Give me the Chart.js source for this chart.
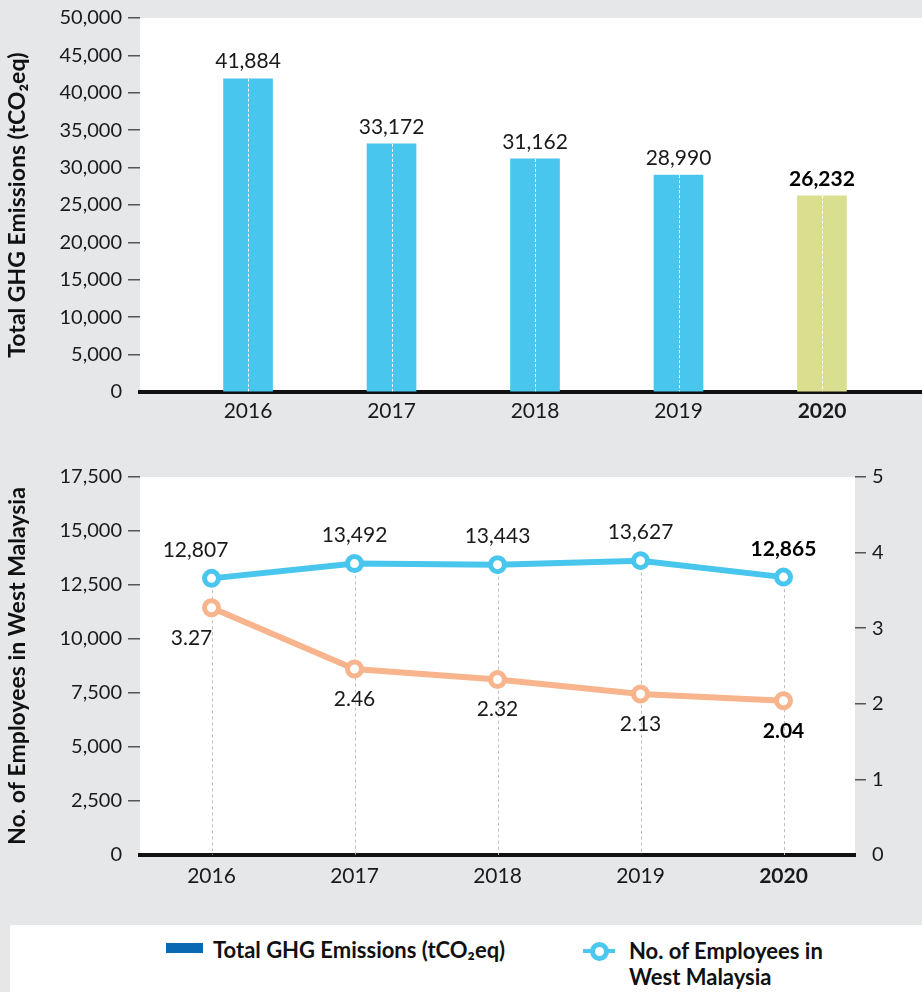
<!DOCTYPE html>
<html>
<head>
<meta charset="utf-8">
<script src="https://cdn.jsdelivr.net/npm/chart.js@4.4.1/dist/chart.umd.min.js"></script>
<style>
  html, body { margin: 0; padding: 0; }
  body {
    width: 922px; height: 992px; background: #e6e7e9;
    position: relative; overflow: hidden; font-family: Lato, sans-serif;
  }
  #graficaEmisiones { position: absolute; left: 0; top: 0; }
  #graficaEmpleados { position: absolute; left: 0; top: 440px; }
  .leyenda {
    position: absolute; left: 10px; top: 925px; width: 912px; height: 67px;
    background: #fff; color: #111; font: bold 22px/26px Lato, sans-serif;
  }
  .leyenda .cuadro { position: absolute; left: 156px; top: 18px; width: 37px; height: 10px; background: #0a69b3; }
  .leyenda .texto1 { position: absolute; left: 203px; top: 12px; white-space: nowrap; }
  .leyenda .linea { position: absolute; left: 573px; top: 24px; width: 32px; height: 4px; background: #4cc7ee; }
  .leyenda .punto {
    position: absolute; left: 580px; top: 17px; width: 9px; height: 9px;
    border: 5px solid #4cc7ee; border-radius: 50%; background: #fff;
  }
  .leyenda .texto2 { position: absolute; left: 619px; top: 13px; white-space: nowrap; }
</style>
</head>
<body>
<canvas id="graficaEmisiones" width="922" height="440"></canvas>
<canvas id="graficaEmpleados" width="922" height="470"></canvas>

<div class="leyenda">
  <div class="cuadro"></div>
  <div class="texto1">Total GHG Emissions (tCO₂eq)</div>
  <div class="linea"></div>
  <div class="punto"></div>
  <div class="texto2">No. of Employees in<br>West Malaysia</div>
</div>

<script>
// Datos
const anios = ['2016', '2017', '2018', '2019', '2020'];
const emisionesTotales = [41884, 33172, 31162, 28990, 26232];
const empleadosOeste = [12807, 13492, 13443, 13627, 12865];
const emisionesPorEmpleado = [3.27, 2.46, 2.32, 2.13, 2.04];

const ticksEmisiones = [0, 5000, 10000, 15000, 20000, 25000, 30000, 35000, 40000, 45000, 50000];
const ticksEmpleados = [0, 2500, 5000, 7500, 10000, 12500, 15000, 17500];
const ticksPorEmpleado = [0, 1, 2, 3, 4, 5];

// Colores
const AZUL = '#48c6ee';
const OLIVA = '#dadf8f';
const NARANJA = '#f8b48c';
const TEXTO = '#1a1a1a';
const FUENTE = 'Lato, sans-serif';

const ultimo = anios.length - 1;
const fmt = v => Number(v).toLocaleString('en-US');

// Fondo blanco del área de la gráfica
const fondoBlanco = {
  id: 'fondoBlanco',
  beforeDraw(chart) {
    const { ctx, chartArea: a } = chart;
    ctx.save();
    ctx.fillStyle = '#fff';
    ctx.fillRect(a.left, a.top, a.right - a.left, a.bottom - a.top);
    ctx.restore();
  }
};

// Línea punteada blanca al centro de cada barra + valor encima
const detalleBarras = {
  id: 'detalleBarras',
  afterDatasetsDraw(chart) {
    const { ctx } = chart;
    const meta = chart.getDatasetMeta(0);
    ctx.save();
    meta.data.forEach((barra, i) => {
      ctx.strokeStyle = '#fff';
      ctx.lineWidth = 1;
      ctx.setLineDash([3, 2]);
      ctx.beginPath();
      ctx.moveTo(Math.round(barra.x) + 0.5, barra.y);
      ctx.lineTo(Math.round(barra.x) + 0.5, barra.base);
      ctx.stroke();

      ctx.setLineDash([]);
      ctx.fillStyle = i === ultimo ? '#000' : TEXTO;
      ctx.font = (i === ultimo ? 'bold ' : '') + '21px ' + FUENTE;
      ctx.textAlign = 'center';
      ctx.textBaseline = 'middle';
      ctx.fillText(fmt(emisionesTotales[i]), barra.x, barra.y - 17);
    });
    ctx.restore();
  }
};

// Guías punteadas grises desde el punto más alto hasta el eje
const guiasPuntos = {
  id: 'guiasPuntos',
  beforeDatasetsDraw(chart) {
    const { ctx, chartArea } = chart;
    const a = chart.getDatasetMeta(0).data;
    const b = chart.getDatasetMeta(1).data;
    ctx.save();
    ctx.strokeStyle = '#bdbdbd';
    ctx.lineWidth = 1;
    ctx.setLineDash([3, 3]);
    a.forEach((p, i) => {
      const x = Math.round(p.x) + 0.5;
      ctx.beginPath();
      ctx.moveTo(x, Math.min(p.y, b[i].y));
      ctx.lineTo(x, chartArea.bottom);
      ctx.stroke();
    });
    ctx.restore();
  }
};

// Valores de las dos series
const etiquetasLineas = {
  id: 'etiquetasLineas',
  afterDatasetsDraw(chart) {
    const { ctx } = chart;
    const a = chart.getDatasetMeta(0).data;
    const b = chart.getDatasetMeta(1).data;
    ctx.save();
    ctx.textAlign = 'center';
    ctx.textBaseline = 'middle';
    a.forEach((p, i) => {
      const negrita = i === ultimo;
      ctx.font = (negrita ? 'bold ' : '') + '21px ' + FUENTE;
      ctx.fillStyle = negrita ? '#000' : TEXTO;
      ctx.fillText(fmt(empleadosOeste[i]), p.x - (i === 0 ? 16 : 0), p.y - 28);
      ctx.fillText(emisionesPorEmpleado[i].toFixed(2), b[i].x - (i === 0 ? 20 : 0), b[i].y + 30);
    });
    ctx.restore();
  }
};

const marcaTick = ctx => (ctx.tick && ctx.tick.value === 0 ? 'rgba(0,0,0,0)' : '#555');
const fuenteTicks = { family: FUENTE, size: 20 };
const fuenteAnios = ctx => ({ family: FUENTE, size: 21, weight: ctx.index === ultimo ? 'bold' : 'normal' });
const fuenteTitulo = { family: FUENTE, size: 23, weight: 'bold' };

// Gráfica 1: emisiones totales
new Chart(document.getElementById('graficaEmisiones'), {
  type: 'bar',
  data: {
    datasets: [{
      data: anios.map((a, i) => ({ x: Number(a), y: emisionesTotales[i] })),
      backgroundColor: anios.map((a, i) => (i === ultimo ? OLIVA : AZUL)),
      borderWidth: 0,
      barThickness: 49
    }]
  },
  options: {
    responsive: false,
    animation: false,
    layout: { padding: { top: 15, left: 0, right: 0, bottom: 0 } },
    plugins: { legend: { display: false }, tooltip: { enabled: false } },
    scales: {
      x: {
        type: 'linear',
        offset: false,
        min: 2015.247,
        max: 2020.697,
        z: 1,
        afterBuildTicks: s => { s.ticks = anios.map(a => ({ value: Number(a) })); },
        afterFit: s => { s.height = 48; },
        grid: { display: true, drawOnChartArea: false, drawTicks: false, offset: false },
        border: { display: true, color: '#111', width: 4 },
        ticks: {
          padding: 7,
          color: TEXTO,
          autoSkip: false,
          maxRotation: 0,
          callback: v => String(v),
          font: fuenteAnios
        }
      },
      y: {
        min: 0,
        max: 50000,
        afterBuildTicks: s => { s.ticks = ticksEmisiones.map(v => ({ value: v })); },
        afterFit: s => { s.width = 140; },
        grid: { drawOnChartArea: false, drawTicks: true, tickLength: 12, lineWidth: 1.5, color: marcaTick },
        border: { display: false },
        ticks: { padding: 6, color: TEXTO, font: fuenteTicks, callback: v => fmt(v) },
        title: {
          display: true,
          text: 'Total GHG Emissions (tCO₂eq)',
          color: '#111',
          font: fuenteTitulo,
          padding: { top: 4, bottom: 0 }
        }
      }
    }
  },
  plugins: [fondoBlanco, detalleBarras]
});

// Gráfica 2: empleados y emisiones por empleado
const punto = color => ({
  borderColor: color,
  borderWidth: 6,
  pointRadius: 7,
  pointBorderWidth: 5,
  pointBackgroundColor: '#fff',
  pointBorderColor: color,
  tension: 0,
  fill: false
});

new Chart(document.getElementById('graficaEmpleados'), {
  type: 'line',
  data: {
    labels: anios,
    datasets: [
      Object.assign({ data: empleadosOeste, yAxisID: 'y' }, punto(AZUL)),
      Object.assign({ data: emisionesPorEmpleado, yAxisID: 'y1' }, punto(NARANJA))
    ]
  },
  options: {
    responsive: false,
    animation: false,
    layout: { padding: { top: 37, left: 0, right: 0, bottom: 0 } },
    plugins: { legend: { display: false }, tooltip: { enabled: false } },
    scales: {
      x: {
        offset: true,
        z: 1,
        afterFit: s => { s.height = 55; },
        grid: { display: true, drawOnChartArea: false, drawTicks: false, offset: true },
        border: { display: true, color: '#111', width: 4 },
        ticks: { padding: 9, color: TEXTO, font: fuenteAnios }
      },
      y: {
        position: 'left',
        min: 0,
        max: 17500,
        afterBuildTicks: s => { s.ticks = ticksEmpleados.map(v => ({ value: v })); },
        afterFit: s => { s.width = 140; },
        grid: { drawOnChartArea: false, drawTicks: true, tickLength: 12, lineWidth: 1.5, color: marcaTick },
        border: { display: false },
        ticks: { padding: 6, color: TEXTO, font: fuenteTicks, callback: v => fmt(v) },
        title: {
          display: true,
          text: 'No. of Employees in West Malaysia',
          color: '#111',
          font: fuenteTitulo,
          padding: { top: 4, bottom: 0 }
        }
      },
      y1: {
        position: 'right',
        min: 0,
        max: 5,
        afterBuildTicks: s => { s.ticks = ticksPorEmpleado.map(v => ({ value: v })); },
        afterFit: s => { s.width = 67; },
        grid: { drawOnChartArea: false, drawTicks: true, tickLength: 11, lineWidth: 1.5, color: marcaTick },
        border: { display: false },
        ticks: { padding: 6, color: TEXTO, font: fuenteTicks, callback: v => String(v) }
      }
    }
  },
  plugins: [fondoBlanco, guiasPuntos, etiquetasLineas]
});
</script>
</body>
</html>
